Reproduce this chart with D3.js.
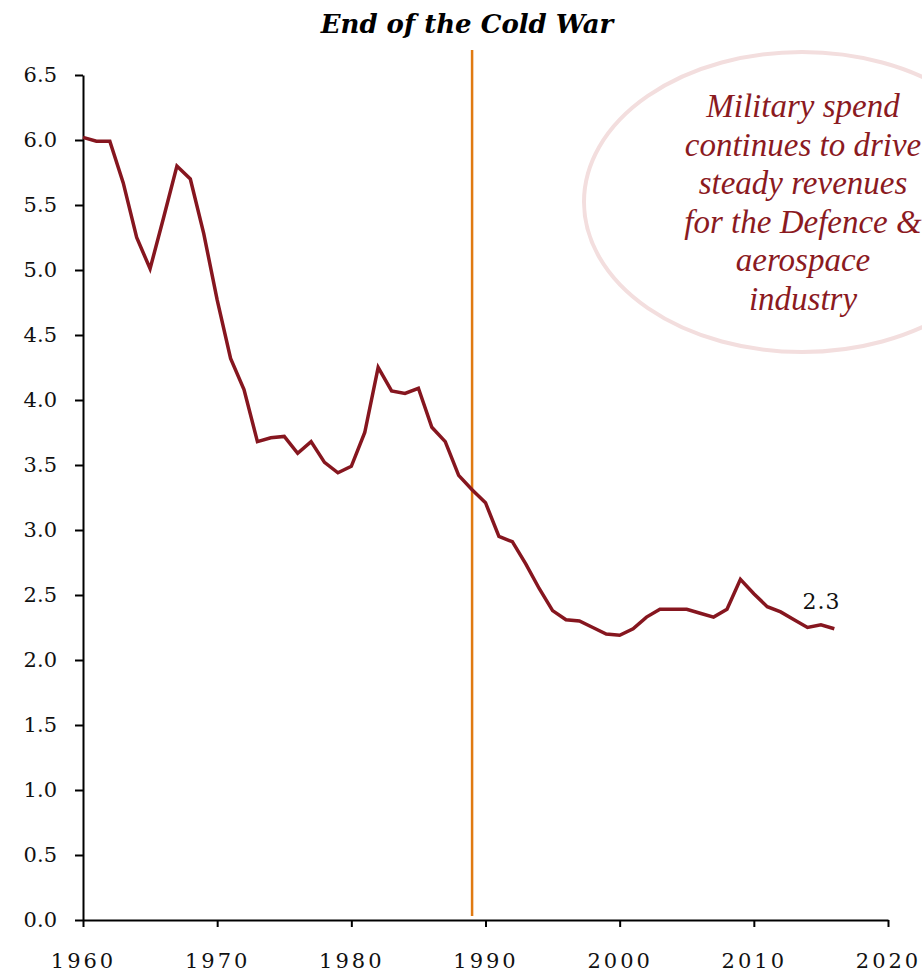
<!DOCTYPE html>
<html><head><meta charset="utf-8">
<script src="https://cdn.jsdelivr.net/npm/d3@7"></script>
<style>body{margin:0;background:#fff}</style>
</head><body>
<script>
const years = d3.range(1960, 2017);
const values = [6.02,5.99,5.99,5.67,5.25,5.01,5.40,5.80,5.70,5.28,4.77,4.32,4.08,3.68,3.71,3.72,3.59,3.68,3.52,3.44,3.49,3.75,4.25,4.07,4.05,4.09,3.79,3.68,3.42,3.31,3.21,2.95,2.91,2.74,2.55,2.38,2.31,2.30,2.25,2.20,2.19,2.24,2.33,2.39,2.39,2.39,2.36,2.33,2.39,2.62,2.51,2.41,2.37,2.31,2.25,2.27,2.24];
const yTicks = [0,0.5,1,1.5,2,2.5,3,3.5,4,4.5,5,5.5,6,6.5];
const xTicks = [1960,1970,1980,1990,2000,2010,2020];
const markerYear = 1989;
const titleText = "End of the Cold War";
const noteLines = ["Military spend","continues to drive","steady revenues","for the Defence &","aerospace","industry"];
const endLabel = "2.3";

const W = 922, H = 974;
const svg = d3.select("body").append("svg").attr("width", W).attr("height", H);
const x = d3.scaleLinear().domain([1960, 2020]).range([83, 888]);
const y = d3.scaleLinear().domain([0, 6.5]).range([920, 75]);
const font = "DejaVu Serif, Liberation Serif, serif";

// annotation ellipse
svg.append("ellipse").attr("cx", 802).attr("cy", 202).attr("rx", 218).attr("ry", 150)
  .attr("fill", "none").attr("stroke", "#f3dede").attr("stroke-width", 4);
svg.append("g").selectAll("text").data(noteLines).join("text")
  .attr("x", 803).attr("y", (d, i) => 117 + i * 38.6)
  .attr("text-anchor", "middle").attr("font-family", "Liberation Serif, serif")
  .attr("font-style", "italic").attr("font-size", 33).attr("fill", "#8b1a1f")
  .text(d => d);

// axes
const yAxis = svg.append("g").attr("transform", "translate(83,0)")
  .call(d3.axisLeft(y).tickValues(yTicks).tickSize(8).tickSizeOuter(0).tickFormat(d3.format(".1f")));
const xAxis = svg.append("g").attr("transform", "translate(0,920)")
  .call(d3.axisBottom(x).tickValues(xTicks).tickSize(7).tickSizeOuter(0).tickFormat(d3.format("d")));
[yAxis, xAxis].forEach(g => {
  g.select(".domain").attr("stroke", "#000").attr("stroke-width", 2);
  g.selectAll(".tick line").attr("stroke", "#000").attr("stroke-width", 2);
  g.selectAll(".tick text").attr("font-family", font).attr("font-size", 21).attr("fill", "#111");
});
yAxis.selectAll(".tick text").attr("x", -26);
xAxis.selectAll(".tick text").attr("y", 33).attr("letter-spacing", 3);

// marker line
svg.append("line").attr("x1", x(markerYear)).attr("x2", x(markerYear))
  .attr("y1", 50).attr("y2", 916).attr("stroke", "#e07a12").attr("stroke-width", 2.5);

// data line
svg.append("path").datum(values)
  .attr("fill", "none").attr("stroke", "#86161f").attr("stroke-width", 3.5)
  .attr("stroke-linejoin", "miter")
  .attr("d", d3.line().x((d, i) => x(years[i])).y(d => y(d)));

svg.append("text").attr("x", x(2014) + 14).attr("y", y(values[values.length - 1]) - 20)
  .attr("text-anchor", "middle").attr("font-family", font).attr("font-size", 22).attr("fill", "#111")
  .attr("letter-spacing", 1).text(endLabel);

svg.append("text").attr("x", 467).attr("y", 33).attr("text-anchor", "middle")
  .attr("font-family", font).attr("font-weight", "bold").attr("font-style", "italic")
  .attr("font-size", 26).attr("fill", "#000").text(titleText);
</script>
</body></html>
